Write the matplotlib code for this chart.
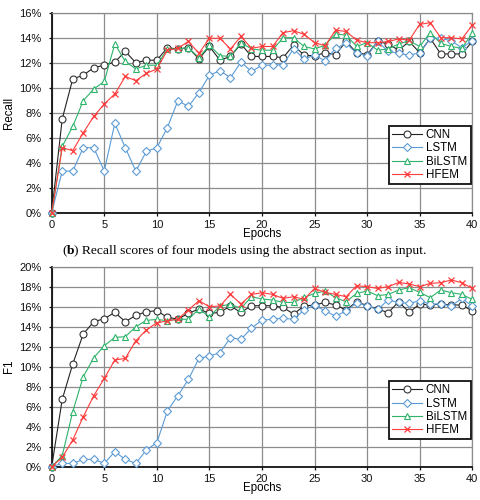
import matplotlib
matplotlib.use("Agg")
import matplotlib.pyplot as plt
import numpy as np

epochs = list(range(41))

recall_cnn = [0, 7.5, 10.7, 11.0, 11.6, 11.8, 12.05, 12.9, 12.0, 12.2, 12.2,
              13.2, 13.1, 13.2, 12.3, 13.3, 12.2, 12.5, 13.5, 12.5, 12.5,
              12.5, 12.4, 13.4, 12.6, 12.55, 12.8, 12.65, 13.7, 12.8, 12.65,
              13.7, 13.5, 13.0, 13.7, 12.8, 13.95, 12.7, 12.7, 12.7, 13.7]
recall_lstm = [0, 3.33, 3.33, 5.2, 5.2, 3.33, 7.15, 5.2, 3.33, 4.9, 5.2,
               6.8, 8.96, 8.5, 9.6, 11.0, 11.36, 10.8, 12.05, 11.3, 11.8,
               11.8, 11.85, 13.1, 12.3, 12.6, 12.15, 13.15, 13.55, 12.75, 12.55,
               13.7, 12.9, 12.75, 12.6, 12.8, 13.95, 13.95, 13.75, 13.2, 13.75]
recall_bilstm = [0, 5.3, 6.9, 8.96, 9.9, 10.5, 13.5, 12.1, 11.5, 11.8, 11.8,
                 13.1, 13.1, 13.2, 12.4, 13.4, 12.56, 12.5, 13.6, 13.1, 13.0,
                 13.0, 14.0, 14.0, 13.3, 13.1, 13.4, 14.3, 14.2, 13.3, 13.6,
                 13.0, 13.1, 13.5, 13.75, 13.3, 14.4, 13.55, 13.3, 13.15, 14.35]
recall_hfem = [0, 5.2, 4.96, 6.4, 7.7, 8.7, 9.5, 10.9, 10.56, 11.15, 11.5,
               13.0, 13.15, 13.7, 12.75, 13.95, 13.95, 13.1, 14.1, 13.15, 13.3,
               13.3, 14.4, 14.56, 14.27, 13.6, 13.36, 14.6, 14.5, 13.8, 13.6,
               13.6, 13.7, 13.9, 13.8, 15.07, 15.2, 14.0, 14.0, 13.9, 15.0]

f1_cnn = [0, 6.73, 10.27, 13.27, 14.5, 14.8, 15.43, 14.5, 15.13, 15.5, 15.6,
          14.93, 14.77, 15.33, 15.77, 15.33, 15.43, 16.07, 15.43, 16.1, 16.1,
          16.1, 15.93, 15.27, 16.07, 16.17, 16.43, 16.17, 15.67, 16.5, 16.1,
          15.77, 15.4, 16.5, 15.43, 16.27, 16.17, 16.27, 16.17, 16.17, 15.57]
f1_lstm = [0, 0.33, 0.33, 0.73, 0.73, 0.33, 1.5, 0.73, 0.33, 1.67, 2.4,
           5.57, 7.1, 8.73, 10.83, 11.07, 11.4, 12.9, 12.73, 13.85, 14.67,
           14.73, 14.87, 14.73, 15.67, 16.17, 15.57, 15.07, 15.57, 16.4, 16.07,
           15.73, 16.67, 16.43, 16.33, 16.6, 16.27, 16.27, 16.07, 16.83, 16.07]
f1_bilstm = [0, 1.1, 5.5, 9.0, 10.9, 12.1, 12.93, 13.0, 14.0, 14.63, 14.73,
             14.6, 14.77, 14.73, 15.77, 15.0, 16.07, 16.23, 15.83, 17.0, 16.77,
             16.67, 16.43, 16.43, 16.93, 17.33, 17.57, 16.9, 16.5, 17.33, 17.57,
             17.1, 17.23, 17.67, 17.9, 17.43, 16.9, 17.67, 17.4, 17.23, 16.73]
f1_hfem = [0, 0.93, 2.67, 5.0, 7.1, 8.83, 10.67, 10.83, 12.6, 13.67, 14.4,
           14.57, 14.77, 15.67, 16.6, 16.0, 16.07, 17.23, 16.27, 17.23, 17.4,
           17.23, 16.83, 17.0, 16.73, 17.83, 17.43, 17.23, 17.0, 18.1, 18.0,
           17.83, 18.0, 18.43, 18.27, 18.0, 18.33, 18.4, 18.67, 18.4, 17.83]

model_names = ["CNN", "LSTM", "BiLSTM", "HFEM"]
caption_b = ") Recall scores of four models using the abstract section as input."

plt.rcParams['font.family'] = ['Liberation Sans', 'DejaVu Sans']

styles = [
    dict(color='#222222', marker='o', ms=5.0, mfc='white', mec='#333333', mew=0.8),
    dict(color='#5B9BD5', marker='D', ms=3.6, mfc='white', mec='#5B9BD5', mew=0.8),
    dict(color='#2DB36A', marker='^', ms=5.0, mfc='white', mec='#2DB36A', mew=0.8),
    dict(color='#FF3B3B', marker='x', ms=5.0, mfc='#FF3B3B', mec='#FF3B3B', mew=0.9),
]

fig = plt.figure(figsize=(4.81, 5.00), dpi=100)

def make_axes(rect, series, ymax, ylabel, legend_rect):
    ax = fig.add_axes(rect)
    for name, vals, st in zip(model_names, series, styles):
        ax.plot(epochs, vals, lw=0.8, label=name, clip_on=False, zorder=3, **st)
    ax.set_xlim(0, 40)
    ax.set_ylim(0, ymax)
    ax.set_xticks(range(0, 41, 5))
    yt = np.arange(0, ymax + 0.1, 2)
    ax.set_yticks(yt)
    ax.set_yticklabels([f"{int(v)}%" for v in yt])
    ax.grid(True, color='#8c8c8c', lw=0.9)
    ax.set_axisbelow(True)
    for s in ['top', 'right']:
        ax.spines[s].set_color('#8c8c8c')
        ax.spines[s].set_linewidth(0.9)
    for s in ['left', 'bottom']:
        ax.spines[s].set_color('#111111')
        ax.spines[s].set_linewidth(1.3)
    ax.tick_params(axis='both', direction='out', length=2.5, width=0.9,
                   labelsize=8, colors='#111111')
    ax.tick_params(axis='y', pad=5)
    ax.tick_params(axis='x', pad=2.5)
    ax.set_xlabel("Epochs", fontsize=8.3, labelpad=-1)
    ax.set_ylabel(ylabel, fontsize=8.3, labelpad=3)
    leg = ax.legend(loc='lower left', bbox_to_anchor=legend_rect, mode='expand',
                    fontsize=8.3, frameon=True, fancybox=False, handlelength=2.6,
                    handletextpad=0.3, borderpad=0.25, labelspacing=0.12,
                    borderaxespad=0)
    fr = leg.get_frame()
    fr.set_edgecolor('#111111')
    fr.set_linewidth(1.3)
    fr.set_facecolor('white')
    fr.set_alpha(1)
    return ax

ax1 = make_axes([0.1075, 0.5746, 0.8744, 0.4],
                [recall_cnn, recall_lstm, recall_bilstm, recall_hfem], 16, "Recall",
                (0.803, 0.143, 0.194, 0.29))
ax2 = make_axes([0.1075, 0.0666, 0.8744, 0.4],
                [f1_cnn, f1_lstm, f1_bilstm, f1_hfem], 20, "F1",
                (0.803, 0.137, 0.194, 0.297))

# caption
cy = 0.498
fs = 9.7
t1 = fig.text(0.129, cy, "(", fontsize=fs, family='Liberation Serif', va='center')
t2 = fig.text(0, 0, "b", fontsize=fs, family='Liberation Serif', weight='bold')
t3 = fig.text(0, 0, caption_b, fontsize=fs, family='Liberation Serif')
fig.canvas.draw()
r = fig.canvas.get_renderer()
bb = t1.get_window_extent(r)
inv = fig.transFigure.inverted()
x1 = inv.transform((bb.x1, bb.y0))[0]
t2.set_position((x1, cy)); t2.set_va('center')
bb2 = t2.get_window_extent(r)
x2 = inv.transform((bb2.x1, bb2.y0))[0]
t3.set_position((x2, cy)); t3.set_va('center')

fig.savefig("out.png", dpi=100)
